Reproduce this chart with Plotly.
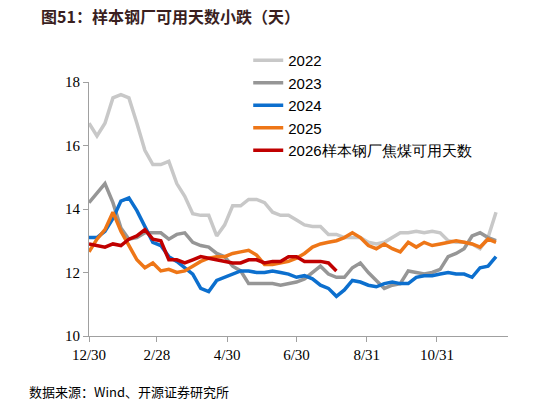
import plotly.graph_objects as go

y2022 = [16.7, 16.3, 16.7, 17.5, 17.6, 17.5, 16.7, 15.85, 15.4, 15.4, 15.5, 14.8, 14.4, 13.85, 13.8, 13.8,
         13.15, 13.5, 14.1, 14.1, 14.3, 14.3, 14.2, 13.9, 13.8, 13.8, 13.65, 13.5, 13.45, 13.45, 13.2, 13.2,
         13.1, 13.1, 13.1, 12.95, 12.9, 12.95, 13.1, 13.25, 13.25, 13.3, 13.25, 13.3, 13.25, 13.0, 12.95,
         12.95, 12.9, 12.75, 13.1, 13.9]
y2023 = [14.2, 14.5, 14.8, 14.2, 13.4, 13.05, 13.1, 13.25, 13.25, 13.25, 13.05, 13.2, 13.25, 12.95, 12.85,
         12.8, 12.6, 12.5, 12.2, 12.05, 11.65, 11.65, 11.65, 11.65, 11.6, 11.65, 11.7, 11.8, 12.0, 12.2, 11.95,
         11.85, 11.85, 12.15, 12.3, 12.0, 11.75, 11.5, 11.6, 11.65, 12.05, 12.0, 11.95, 12.0, 12.1, 12.5, 12.6,
         12.75, 13.15, 13.25, 13.1, 13.0]
y2024 = [13.1, 13.1, 13.3, 13.7, 14.25, 14.35, 13.95, 13.45, 12.95, 12.85, 12.5, 12.35, 12.15, 11.95, 11.5,
         11.4, 11.75, 11.85, 11.95, 12.05, 12.05, 12.0, 12.0, 12.05, 12.0, 11.95, 11.85, 11.9, 11.8, 11.6, 11.5,
         11.25, 11.45, 11.75, 11.7, 11.6, 11.55, 11.65, 11.7, 11.65, 11.65, 11.85, 11.9, 11.9, 11.95, 12.0,
         11.95, 11.95, 11.85, 12.15, 12.2, 12.5]
y2025 = [12.65, 13.05, 13.35, 13.9, 13.3, 12.85, 12.4, 12.15, 12.3, 12.05, 12.1, 12.0, 12.05, 12.2, 12.35,
         12.45, 12.5, 12.5, 12.6, 12.65, 12.7, 12.55, 12.25, 12.25, 12.3, 12.35, 12.45, 12.6, 12.8, 12.9, 12.95,
         13.0, 13.1, 13.25, 13.1, 12.85, 12.75, 12.9, 12.75, 12.65, 12.95, 12.8, 12.95, 12.85, 12.9, 12.95,
         13.0, 12.95, 12.9, 12.8, 13.05, 12.95]
y2026 = [12.9, 12.85, 12.8, 12.9, 12.85, 13.05, 13.15, 13.35, 13.05, 13.0, 12.4, 12.4, 12.3, 12.4, 12.5,
         12.45, 12.4, 12.35, 12.3, 12.3, 12.4, 12.4, 12.3, 12.35, 12.35, 12.5, 12.5, 12.35, 12.35, 12.35, 12.3,
         12.05]
tick_pos = [0, 8.5, 17.3, 26, 34.8, 43.6]
tick_text = ["12/30", "2/28", "4/30", "6/30", "8/31", "10/31"]

series = [
    ("2022", y2022, "#c8c8c8"),
    ("2023", y2023, "#969696"),
    ("2024", y2024, "#0c6fce"),
    ("2025", y2025, "#ee7617"),
    ("2026样本钢厂焦煤可用天数", y2026, "#c00000"),
]

fig = go.Figure()
for name, ys, color in series:
    fig.add_scatter(x=list(range(len(ys))), y=ys, mode="lines", name=name,
                    line=dict(color=color, width=3.5))

fig.update_layout(
    width=546, height=405,
    margin=dict(l=81, r=46, t=74, b=77),
    plot_bgcolor="white", paper_bgcolor="white",
    font=dict(family="Liberation Serif", size=15, color="black"),
    legend=dict(x=0.38, y=1.15, xanchor="left", yanchor="top", bgcolor="rgba(0,0,0,0)",
                font=dict(family="Liberation Sans", size=15), tracegroupgap=0),
    annotations=[
        dict(text="<b>图51：样本钢厂可用天数小跌（天）</b>", x=0, y=1, xref="paper", yref="paper",
             xanchor="left", yanchor="top", showarrow=False, xshift=-50, yshift=80,
             font=dict(family="Noto Sans CJK SC", size=16, color="#3a1f1f")),
        dict(text="数据来源：Wind、开源证券研究所", x=0, y=0, xref="paper", yref="paper",
             xanchor="left", yanchor="top", showarrow=False, xshift=-62, yshift=-44,
             font=dict(family="Noto Sans CJK SC", size=13, color="black")),
    ],
)
fig.update_xaxes(range=[0, 52.5], tickvals=tick_pos, ticktext=tick_text, showgrid=False,
                 showline=True, linecolor="#a0a0a0", ticks="outside", tickcolor="#a0a0a0", ticklen=5)
fig.update_yaxes(range=[10, 18], dtick=2, showgrid=False, showline=True, linecolor="#a0a0a0",
                 ticks="outside", tickcolor="#a0a0a0", ticklen=5)

fig.write_html("out.html")
